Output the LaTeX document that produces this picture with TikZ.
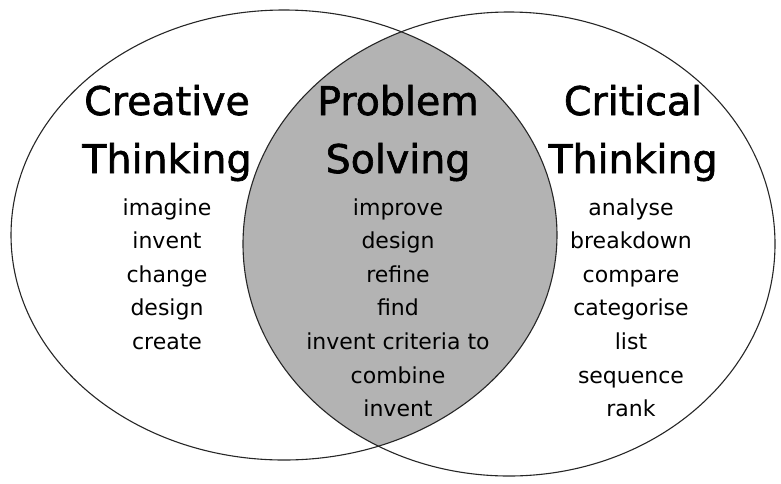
\documentclass[tikz,border=0pt]{standalone}
\usepackage{fontspec}
\setmainfont{DejaVu Sans}
\newfontfamily\headfont[FakeBold=1.6]{DejaVu Sans}
\definecolor{lensgray}{RGB}{179,179,179}
\tikzset{
  setline/.style={draw=black!85, line width=1.1pt},
  heading/.style={anchor=base, inner sep=0pt, font=\headfont\fontsize{39.5}{44}\selectfont},
  word/.style={anchor=base, inner sep=0pt, font=\fontsize{22}{26}\selectfont},
}
\begin{document}
\begin{tikzpicture}[x=1pt, y=-1pt]
        \useasboundingbox (0,0) rectangle (781,483);
        % Sets and their overlap:
        \begin{scope}
          \clip (284,235) ellipse [x radius=273pt, y radius=225pt];
          \fill[lensgray] (509,244) ellipse [x radius=266pt, y radius=232pt];
        \end{scope}
        \draw[setline] (284,235) ellipse [x radius=273pt, y radius=225pt];
        \draw[setline] (509,244) ellipse [x radius=266pt, y radius=232pt];
        % Headings:
        \node[heading] (CT1) at (167,115) {Creative};
        \node[heading] (CT2) at (167,173) {Thinking};
        \node[heading] (PS1) at (398,115) {Problem};
        \node[heading] (PS2) at (398,173) {Solving};
        \node[heading] (RT1) at (633,115) {Critical};
        \node[heading] (RT2) at (633,173) {Thinking};
        % Words, left set:
        \node[word] (L1) at (167,215) {imagine};
        \node[word] (L2) at (167,248.6) {invent};
        \node[word] (L3) at (167,282.2) {change};
        \node[word] (L4) at (167,315.8) {design};
        \node[word] (L5) at (167,349.4) {create};
        % Words, overlap:
        \node[word] (M1) at (398,215) {improve};
        \node[word] (M2) at (398,248.6) {design};
        \node[word] (M3) at (398,282.2) {refine};
        \node[word] (M4) at (398,315.8) {find};
        \node[word] (M5) at (398,349.4) {invent criteria to};
        \node[word] (M6) at (398,383) {combine};
        \node[word] (M7) at (398,416.6) {invent};
        % Words, right set:
        \node[word] (R1) at (631,215) {analyse};
        \node[word] (R2) at (631,248.6) {breakdown};
        \node[word] (R3) at (631,282.2) {compare};
        \node[word] (R4) at (631,315.8) {categorise};
        \node[word] (R5) at (631,349.4) {list};
        \node[word] (R6) at (631,383) {sequence};
        \node[word] (R7) at (631,416.6) {rank};
\end{tikzpicture}
\end{document}
